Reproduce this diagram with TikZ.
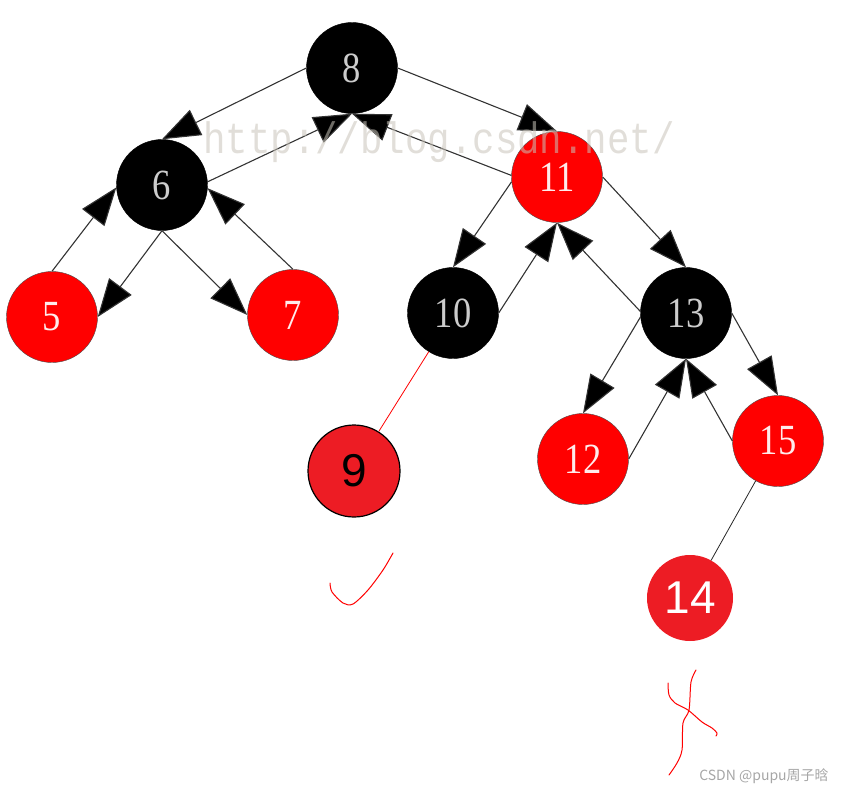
\documentclass[tikz,border=0pt]{standalone}
\usepackage{graphicx}
\usepackage{fontspec}
\setmainfont{Liberation Serif}
\newfontfamily\wmfont{Liberation Mono}
\newfontfamily\insfont{Liberation Sans}
\newfontfamily\cjkfont{Noto Sans CJK SC}
\usepackage{tikz}
\usetikzlibrary{arrows.meta}
\definecolor{insred}{RGB}{237,28,36}
\definecolor{wmgray}{RGB}{200,195,185}
\newcommand{\dgt}[1]{\scalebox{0.85}[1]{#1}}

\begin{document}
\begin{tikzpicture}[x=1pt,y=-1pt, blk/.style={circle,fill=black,draw=black,minimum size=91pt,inner sep=0pt,text=black!20,font=\fontsize{43}{43}\selectfont}, rd/.style={blk,fill=red,draw=black!70,text=red!8}, ins/.style={circle,fill=insred,minimum size=92pt,inner sep=0pt,font=\insfont\fontsize{46}{46}\selectfont}, arr/.style={-{Triangle[length=38pt,width=28pt,fill=black]},draw=black!80,line width=1.1pt}, link/.style={line width=0.8pt}, hand/.style={draw=red,line width=1pt,line cap=round,line join=round}]
\useasboundingbox (0,0) rectangle (845,792);
\node[blk] (n8) at (352,68) {\dgt{8}};
\node[blk] (n6) at (162,185) {\dgt{6}};
\node[rd] (n11) at (557,177) {\dgt{11}};
\node[rd] (n5) at (52,317) {\dgt{5}};
\node[rd] (n7) at (293,315) {\dgt{7}};
\node[blk] (n10) at (453,313) {\dgt{10}};
\node[blk] (n13) at (686,313) {\dgt{13}};
\node[rd] (n12) at (583,459) {\dgt{12}};
\node[rd] (n15) at (778,441) {\dgt{15}};
\node[ins,draw=black,line width=1.2pt,text=black] (n9) at (354,471) {9};
\node[ins,minimum size=86pt,text=white] (n14) at (690,598) {14};
\draw[arr] (n8.west) -- (n6.north); \draw[arr] (n6.4) -- (n8.south);
\draw[arr] (n8.east) -- (n11.north); \draw[arr] (n11.178) -- (n8.south);
\draw[arr] (n6.south) -- (n5.east); \draw[arr] (n5.north) -- (n6.183);
\draw[arr] (n6.south) -- (n7.west); \draw[arr] (n7.north) -- (n6.-4);
\draw[arr] (n11.186) -- (n10.north); \draw[arr] (n10.east) -- (n11.south);
\draw[arr] (n11.east) -- (n13.north); \draw[arr] (n13.178) -- (n11.south);
\draw[arr] (n13.185) -- (n12.north); \draw[arr] (n12.east) -- (n13.south);
\draw[arr] (n13.east) -- (n15.north); \draw[arr] (n15.west) -- (n13.south);
\draw[link,red] (n10) -- (n9);
\draw[link,black!85] (n15) -- (n14);
\draw[hand] plot[smooth] coordinates {(330,583) (332,592) (343,603) (353,604) (368,590) (383,570) (393,553)};
\draw[hand] plot[smooth] coordinates {(696,670) (691,682) (689,710) (683,723) (682,750) (677,763) (669,775)};
\draw[hand] plot[smooth] coordinates {(668,683) (669,695) (675,703) (688,710) (702,722) (712,728) (717,733) (716,736)};
\node[text=wmgray,opacity=0.55,font=\wmfont\fontsize{44}{44}\selectfont,inner sep=0pt] (wm) at (439,142) {\scalebox{0.85}[1]{http://blog.csdn.net/}};
\node[text=black!35,font=\cjkfont\fontsize{14}{14}\selectfont,inner sep=0pt] (src) at (764,776) {CSDN @pupu周子晗};
\end{tikzpicture}
\end{document}
